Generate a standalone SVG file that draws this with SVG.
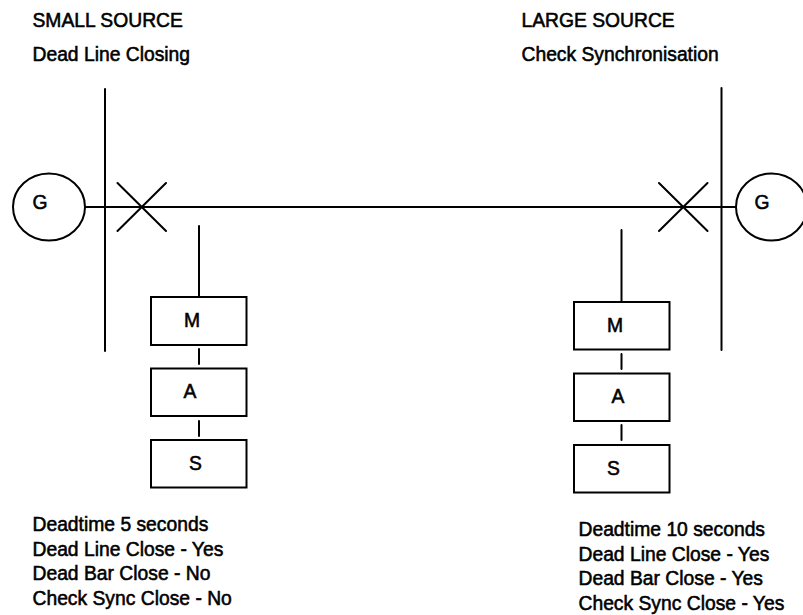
<svg xmlns="http://www.w3.org/2000/svg" width="803" height="615" viewBox="0 0 803 615">
<style>
.l{fill:none;stroke:#000;stroke-width:2;stroke-linecap:round}
.b{fill:#fff;stroke:#000;stroke-width:2}
text{font-family:"Liberation Sans",Arial,sans-serif;font-size:19.3px;fill:#000;stroke:#000;stroke-width:.55px}
</style>
<rect width="803" height="615" fill="#fff"/>
<g id="connectors">
<path class="l" d="M105 89V351M721.5 88V350M85 207H736"/>
<path class="l" d="M117.500 183L166 231M117.500 231L166 183M659 183L707.500 231M659 231L707.500 183"/>
<path class="l" d="M199 226V297M199 349V364M199 421V436M621.500 230V302M621.500 354V369M621.500 425V440"/>
</g>
<g id="gen-left"><ellipse class="b" cx="49" cy="207" rx="36" ry="33.500"/><text x="32.500" y="208.500">G</text></g>
<g id="gen-right"><ellipse class="b" cx="771.500" cy="207" rx="35.500" ry="33.500"/><text x="754.500" y="208.500">G</text></g>
<g id="box-m-left"><rect class="b" x="151" y="297" width="95.500" height="48"/><text x="184" y="327">M</text></g>
<g id="box-a-left"><rect class="b" x="151" y="368.500" width="95.500" height="47.500"/><text x="183.500" y="398">A</text></g>
<g id="box-s-left"><rect class="b" x="151" y="440" width="95.500" height="47.500"/><text x="189" y="469.500">S</text></g>
<g id="box-m-right"><rect class="b" x="574" y="302" width="95.500" height="47.500"/><text x="607" y="332">M</text></g>
<g id="box-a-right"><rect class="b" x="574" y="373.500" width="95.500" height="47.500"/><text x="611.500" y="403">A</text></g>
<g id="box-s-right"><rect class="b" x="574" y="445" width="95.500" height="47.500"/><text x="607" y="474.500">S</text></g>
<g id="title-left"><text x="32.500" y="27">SMALL SOURCE</text><text x="32.500" y="61">Dead Line Closing</text></g>
<g id="title-right"><text x="521.500" y="27">LARGE SOURCE</text><text x="521.500" y="61">Check Synchronisation</text></g>
<g id="notes-left"><text x="32.500" y="531">Deadtime 5 seconds</text><text x="32.500" y="555.500">Dead Line Close - Yes</text><text x="32.500" y="580">Dead Bar Close - No</text><text x="32.500" y="604.500">Check Sync Close - No</text></g>
<g id="notes-right"><text x="578.500" y="536">Deadtime 10 seconds</text><text x="578.500" y="560.500">Dead Line Close - Yes</text><text x="578.500" y="585">Dead Bar Close - Yes</text><text x="578.500" y="609.500">Check Sync Close - Yes</text></g>
</svg>
